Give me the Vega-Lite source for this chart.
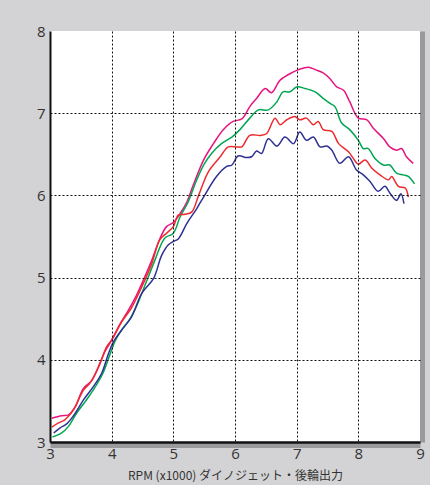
{
 "$schema": "https://vega.github.io/schema/vega-lite/v6.json",
 "width": 370,
 "height": 411,
 "autosize": {"type": "none"},
 "padding": {"left": 50, "top": 31, "right": 10, "bottom": 43},
 "background": "#d3d3d5",
 "config": {
  "view": {"fill": "white", "stroke": null},
  "axis": {"labelFont": "Open Sans", "labelFontSize": 15, "labelColor": "#333333", "ticks": false, "labelFlush": false, "labelOverlap": false}
 },
 "data": {"values": [
  {"s":"A","rpm":3.03,"p":3.29},{"s":"A","rpm":3.19,"p":3.32},{"s":"A","rpm":3.30,"p":3.33},{"s":"A","rpm":3.41,"p":3.43},{"s":"A","rpm":3.54,"p":3.65},{"s":"A","rpm":3.68,"p":3.75},{"s":"A","rpm":3.81,"p":3.96},{"s":"A","rpm":3.89,"p":4.10},{"s":"A","rpm":4.00,"p":4.24},{"s":"A","rpm":4.14,"p":4.44},{"s":"A","rpm":4.27,"p":4.60},{"s":"A","rpm":4.40,"p":4.78},{"s":"A","rpm":4.52,"p":4.98},{"s":"A","rpm":4.65,"p":5.21},{"s":"A","rpm":4.78,"p":5.47},{"s":"A","rpm":4.89,"p":5.62},{"s":"A","rpm":5.00,"p":5.67},{"s":"A","rpm":5.11,"p":5.78},{"s":"A","rpm":5.22,"p":5.92},{"s":"A","rpm":5.32,"p":6.12},{"s":"A","rpm":5.49,"p":6.43},{"s":"A","rpm":5.65,"p":6.63},{"s":"A","rpm":5.81,"p":6.80},{"s":"A","rpm":5.97,"p":6.90},{"s":"A","rpm":6.11,"p":6.93},{"s":"A","rpm":6.24,"p":7.08},{"s":"A","rpm":6.35,"p":7.18},{"s":"A","rpm":6.49,"p":7.30},{"s":"A","rpm":6.59,"p":7.25},{"s":"A","rpm":6.73,"p":7.40},{"s":"A","rpm":6.89,"p":7.48},{"s":"A","rpm":7.03,"p":7.53},{"s":"A","rpm":7.19,"p":7.56},{"s":"A","rpm":7.30,"p":7.53},{"s":"A","rpm":7.43,"p":7.49},{"s":"A","rpm":7.54,"p":7.42},{"s":"A","rpm":7.65,"p":7.32},{"s":"A","rpm":7.76,"p":7.28},{"s":"A","rpm":7.86,"p":7.14},{"s":"A","rpm":8.00,"p":6.94},{"s":"A","rpm":8.14,"p":6.92},{"s":"A","rpm":8.24,"p":6.82},{"s":"A","rpm":8.41,"p":6.69},{"s":"A","rpm":8.51,"p":6.59},{"s":"A","rpm":8.62,"p":6.55},{"s":"A","rpm":8.70,"p":6.57},{"s":"A","rpm":8.78,"p":6.47},{"s":"A","rpm":8.89,"p":6.39},
  {"s":"B","rpm":3.04,"p":3.06},{"s":"B","rpm":3.19,"p":3.11},{"s":"B","rpm":3.30,"p":3.19},{"s":"B","rpm":3.43,"p":3.35},{"s":"B","rpm":3.57,"p":3.49},{"s":"B","rpm":3.70,"p":3.63},{"s":"B","rpm":3.86,"p":3.84},{"s":"B","rpm":3.97,"p":4.06},{"s":"B","rpm":4.05,"p":4.22},{"s":"B","rpm":4.16,"p":4.36},{"s":"B","rpm":4.30,"p":4.50},{"s":"B","rpm":4.42,"p":4.68},{"s":"B","rpm":4.51,"p":4.85},{"s":"B","rpm":4.60,"p":5.02},{"s":"B","rpm":4.70,"p":5.21},{"s":"B","rpm":4.86,"p":5.48},{"s":"B","rpm":5.00,"p":5.54},{"s":"B","rpm":5.11,"p":5.74},{"s":"B","rpm":5.24,"p":5.92},{"s":"B","rpm":5.38,"p":6.19},{"s":"B","rpm":5.50,"p":6.38},{"s":"B","rpm":5.62,"p":6.51},{"s":"B","rpm":5.78,"p":6.63},{"s":"B","rpm":5.95,"p":6.71},{"s":"B","rpm":6.08,"p":6.80},{"s":"B","rpm":6.24,"p":6.94},{"s":"B","rpm":6.38,"p":7.04},{"s":"B","rpm":6.54,"p":7.04},{"s":"B","rpm":6.68,"p":7.14},{"s":"B","rpm":6.78,"p":7.26},{"s":"B","rpm":6.89,"p":7.26},{"s":"B","rpm":7.00,"p":7.32},{"s":"B","rpm":7.14,"p":7.30},{"s":"B","rpm":7.30,"p":7.26},{"s":"B","rpm":7.43,"p":7.18},{"s":"B","rpm":7.54,"p":7.12},{"s":"B","rpm":7.62,"p":7.08},{"s":"B","rpm":7.73,"p":6.88},{"s":"B","rpm":7.86,"p":6.80},{"s":"B","rpm":8.00,"p":6.67},{"s":"B","rpm":8.08,"p":6.57},{"s":"B","rpm":8.16,"p":6.57},{"s":"B","rpm":8.27,"p":6.45},{"s":"B","rpm":8.41,"p":6.37},{"s":"B","rpm":8.51,"p":6.37},{"s":"B","rpm":8.62,"p":6.27},{"s":"B","rpm":8.73,"p":6.25},{"s":"B","rpm":8.81,"p":6.23},{"s":"B","rpm":8.91,"p":6.14},
  {"s":"C","rpm":3.03,"p":3.18},{"s":"C","rpm":3.13,"p":3.23},{"s":"C","rpm":3.24,"p":3.27},{"s":"C","rpm":3.38,"p":3.39},{"s":"C","rpm":3.54,"p":3.63},{"s":"C","rpm":3.65,"p":3.72},{"s":"C","rpm":3.78,"p":3.90},{"s":"C","rpm":3.92,"p":4.16},{"s":"C","rpm":4.00,"p":4.24},{"s":"C","rpm":4.16,"p":4.46},{"s":"C","rpm":4.32,"p":4.63},{"s":"C","rpm":4.49,"p":4.89},{"s":"C","rpm":4.65,"p":5.17},{"s":"C","rpm":4.78,"p":5.46},{"s":"C","rpm":4.89,"p":5.54},{"s":"C","rpm":5.00,"p":5.62},{"s":"C","rpm":5.08,"p":5.76},{"s":"C","rpm":5.19,"p":5.77},{"s":"C","rpm":5.30,"p":5.80},{"s":"C","rpm":5.41,"p":6.00},{"s":"C","rpm":5.57,"p":6.29},{"s":"C","rpm":5.76,"p":6.47},{"s":"C","rpm":5.89,"p":6.59},{"s":"C","rpm":6.03,"p":6.59},{"s":"C","rpm":6.11,"p":6.59},{"s":"C","rpm":6.24,"p":6.73},{"s":"C","rpm":6.41,"p":6.73},{"s":"C","rpm":6.51,"p":6.75},{"s":"C","rpm":6.65,"p":6.94},{"s":"C","rpm":6.73,"p":6.86},{"s":"C","rpm":6.84,"p":6.92},{"s":"C","rpm":6.97,"p":6.96},{"s":"C","rpm":7.05,"p":6.92},{"s":"C","rpm":7.16,"p":6.94},{"s":"C","rpm":7.27,"p":6.86},{"s":"C","rpm":7.35,"p":6.90},{"s":"C","rpm":7.43,"p":6.80},{"s":"C","rpm":7.57,"p":6.78},{"s":"C","rpm":7.68,"p":6.63},{"s":"C","rpm":7.84,"p":6.53},{"s":"C","rpm":7.92,"p":6.45},{"s":"C","rpm":8.00,"p":6.38},{"s":"C","rpm":8.11,"p":6.43},{"s":"C","rpm":8.22,"p":6.33},{"s":"C","rpm":8.35,"p":6.25},{"s":"C","rpm":8.49,"p":6.19},{"s":"C","rpm":8.54,"p":6.23},{"s":"C","rpm":8.65,"p":6.11},{"s":"C","rpm":8.76,"p":6.09},{"s":"C","rpm":8.81,"p":5.98},
  {"s":"D","rpm":3.06,"p":3.11},{"s":"D","rpm":3.16,"p":3.17},{"s":"D","rpm":3.27,"p":3.22},{"s":"D","rpm":3.41,"p":3.35},{"s":"D","rpm":3.54,"p":3.51},{"s":"D","rpm":3.70,"p":3.67},{"s":"D","rpm":3.84,"p":3.84},{"s":"D","rpm":3.95,"p":4.08},{"s":"D","rpm":4.03,"p":4.22},{"s":"D","rpm":4.16,"p":4.36},{"s":"D","rpm":4.32,"p":4.52},{"s":"D","rpm":4.49,"p":4.81},{"s":"D","rpm":4.68,"p":4.99},{"s":"D","rpm":4.81,"p":5.27},{"s":"D","rpm":4.92,"p":5.40},{"s":"D","rpm":5.00,"p":5.44},{"s":"D","rpm":5.08,"p":5.47},{"s":"D","rpm":5.22,"p":5.66},{"s":"D","rpm":5.38,"p":5.84},{"s":"D","rpm":5.49,"p":5.98},{"s":"D","rpm":5.70,"p":6.23},{"s":"D","rpm":5.86,"p":6.35},{"s":"D","rpm":5.95,"p":6.37},{"s":"D","rpm":6.05,"p":6.48},{"s":"D","rpm":6.19,"p":6.46},{"s":"D","rpm":6.27,"p":6.47},{"s":"D","rpm":6.35,"p":6.54},{"s":"D","rpm":6.43,"p":6.51},{"s":"D","rpm":6.54,"p":6.69},{"s":"D","rpm":6.68,"p":6.60},{"s":"D","rpm":6.81,"p":6.71},{"s":"D","rpm":6.95,"p":6.63},{"s":"D","rpm":7.05,"p":6.77},{"s":"D","rpm":7.16,"p":6.67},{"s":"D","rpm":7.27,"p":6.71},{"s":"D","rpm":7.38,"p":6.59},{"s":"D","rpm":7.49,"p":6.60},{"s":"D","rpm":7.57,"p":6.55},{"s":"D","rpm":7.70,"p":6.39},{"s":"D","rpm":7.84,"p":6.47},{"s":"D","rpm":7.97,"p":6.31},{"s":"D","rpm":8.08,"p":6.25},{"s":"D","rpm":8.19,"p":6.17},{"s":"D","rpm":8.32,"p":6.05},{"s":"D","rpm":8.43,"p":6.11},{"s":"D","rpm":8.51,"p":6.03},{"s":"D","rpm":8.62,"p":5.94},{"s":"D","rpm":8.69,"p":6.02},{"s":"D","rpm":8.74,"p":5.90}
 ]},
 "layer": [
  {
   "mark": {"type": "line", "opacity": 0},
   "encoding": {
    "x": {"field": "rpm", "type": "quantitative", "scale": {"domain": [3, 9], "nice": false, "zero": false},
          "axis": {"orient": "bottom", "labels": false, "grid": false, "title": null, "domainColor": "#9a9a9c", "domainWidth": 5, "offset": 3, "zindex": 0}},
    "y": {"field": "p", "type": "quantitative", "scale": {"domain": [3, 8], "nice": false, "zero": false},
          "axis": {"orient": "right", "labels": false, "grid": false, "title": null, "domainColor": "#9a9a9c", "domainWidth": 5, "offset": 2, "zindex": 0}},
    "detail": {"field": "s", "type": "nominal"}
   }
  },
  {
   "mark": {"type": "line", "strokeWidth": 1.5, "interpolate": "catmull-rom"},
   "encoding": {
    "x": {"field": "rpm", "type": "quantitative", "scale": {"domain": [3, 9], "nice": false, "zero": false},
          "axis": {"orient": "bottom", "values": [3,4,5,6,7,8,9], "format": "d", "grid": true, "gridDash": [2, 2], "gridColor": "#111111", "gridWidth": 1,
                   "gridOpacity": {"condition": {"test": "datum.value === 9 || datum.value === 3", "value": 0}, "value": 1},
                   "domainColor": "#111111", "domainWidth": 2.5, "labelPadding": 4, "zindex": 1,
                   "title": "RPM (x1000) ダイノジェット・後輪出力", "titleFont": "Noto Sans CJK JP", "titleFontSize": 12, "titleFontWeight": "normal", "titleColor": "#333333", "titlePadding": 9, "titleBaseline": "top"}},
    "y": {"field": "p", "type": "quantitative", "scale": {"domain": [3, 8], "nice": false, "zero": false},
          "axis": {"orient": "left", "values": [3,4,5,6,7,8], "format": "d", "grid": true, "gridDash": [2, 2], "gridColor": "#111111", "gridWidth": 1,
                   "gridOpacity": {"condition": {"test": "datum.value === 8 || datum.value === 3", "value": 0}, "value": 1},
                   "domainColor": "#111111", "domainWidth": 2, "labelPadding": 5, "zindex": 1, "title": null}},
    "color": {"field": "s", "type": "nominal", "legend": null,
              "scale": {"domain": ["A", "B", "C", "D"], "range": ["#e6147f", "#00a651", "#ee2a2e", "#2e3192"]}}
   }
  }
 ],
 "resolve": {"axis": {"x": "independent", "y": "independent"}}
}
